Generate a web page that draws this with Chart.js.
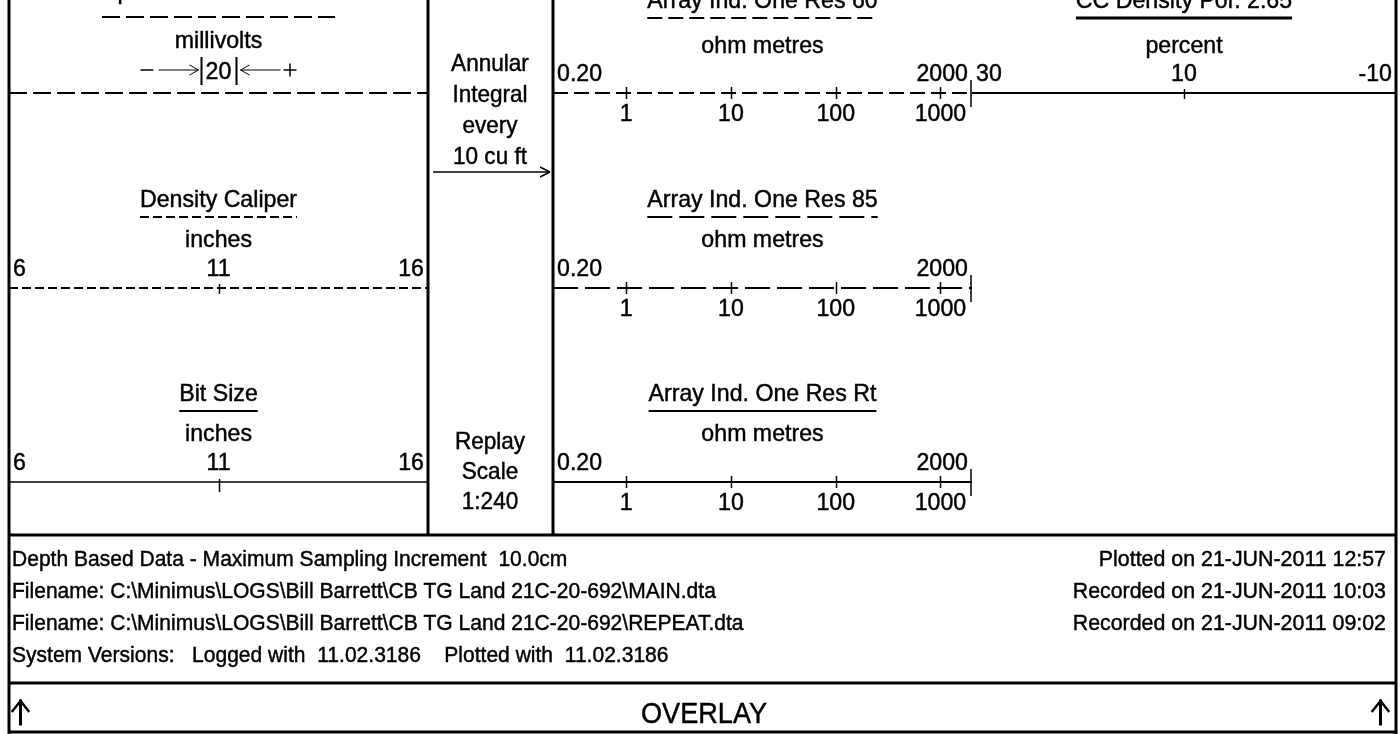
<!DOCTYPE html>
<html>
<head>
<meta charset="utf-8">
<title>Log header</title>
<script src="https://cdn.jsdelivr.net/npm/chart.js@4.4.0/dist/chart.umd.min.js"></script>
<style>
  html, body { margin: 0; padding: 0; background: #fff; }
  #sheet { position: relative; width: 1400px; height: 734px; overflow: hidden; }
  #sheet canvas { position: absolute; }
</style>
</head>
<body>
<div id="sheet">
  <canvas id="frame" width="1400" height="734" style="left:0;top:0"></canvas>
</div>
<script>
// curve names and units
var curveTitles = ['Spontaneous Potential', 'Density Caliper', 'Bit Size',
                   'Array Ind. One Res 60', 'Array Ind. One Res 85', 'Array Ind. One Res Rt',
                   'CC Density Por. 2.65'];
var curveUnits = ['millivolts', 'inches', 'inches', 'ohm metres', 'ohm metres', 'ohm metres', 'percent'];

// scale values
var spSpan = 20;
var caliperTicks = [6, 11, 16];
var bitSizeTicks = [6, 11, 16];
var resistivityEnds = [0.2, 2000];
var resistivityTicks = [1, 10, 100, 1000];
var porosityTicks = [30, 10, -10];

// footer text
var footerLeft = ['Depth Based Data - Maximum Sampling Increment  10.0cm',
                  'Filename: C:\\Minimus\\LOGS\\Bill Barrett\\CB TG Land 21C-20-692\\MAIN.dta',
                  'Filename: C:\\Minimus\\LOGS\\Bill Barrett\\CB TG Land 21C-20-692\\REPEAT.dta',
                  'System Versions:   Logged with  11.02.3186    Plotted with  11.02.3186'];
var footerRight = ['Plotted on 21-JUN-2011 12:57', 'Recorded on 21-JUN-2011 10:03',
                   'Recorded on 21-JUN-2011 09:02'];

var FONT = '"Liberation Sans", Arial, sans-serif';
var INK = '#000';

function line(ctx, x1, y1, x2, y2, w) {
  ctx.lineWidth = w;
  ctx.beginPath();
  ctx.moveTo(x1, y1);
  ctx.lineTo(x2, y2);
  ctx.stroke();
}

// slightly narrowed, slightly heavier text (plotter font), returns drawn width
function say(ctx, t, x, y, size, align, squeeze) {
  ctx.font = size + 'px ' + FONT;
  ctx.textAlign = align || 'center';
  ctx.textBaseline = 'alphabetic';
  var w = ctx.measureText(t).width * (squeeze || 0.965);
  ctx.fillText(t, x, y, w);
  ctx.lineWidth = 0.45;
  ctx.strokeText(t, x, y, w);
  return w;
}

//-----------------------
//- FRAME AND FREE TEXT -
//-----------------------
var fc = document.getElementById('frame').getContext('2d');
fc.fillStyle = '#fff';
fc.fillRect(0, 0, 1400, 734);
fc.strokeStyle = INK;
fc.fillStyle = INK;

// outer border and track dividers
line(fc, 9, 0, 9, 734, 3);
line(fc, 1396, 0, 1396, 734, 3);
line(fc, 428, 0, 428, 535, 3);
line(fc, 553, 0, 553, 535, 3);
line(fc, 9, 535, 1396, 535, 3);
line(fc, 9, 683, 1396, 683, 3);
line(fc, 9, 732, 1396, 732, 3);

// depth track
['Annular', 'Integral', 'every', '10 cu ft'].forEach(function (t, i) {
  say(fc, t, 490, 71 + i * 31, 24, 'center', 0.94);
});
line(fc, 433, 172, 550, 172, 1.5);
line(fc, 550, 172, 540, 167, 1.5);
line(fc, 550, 172, 540, 177, 1.5);
['Replay', 'Scale', '1:240'].forEach(function (t, i) {
  say(fc, t, 490, 449 + i * 30, 24, 'center', 0.94);
});

// footer
footerLeft.forEach(function (t, i) { say(fc, t, 12, 566 + i * 32, 22.5, 'left', 0.935); });
footerRight.forEach(function (t, i) { say(fc, t, 1386, 566 + i * 32, 22.5, 'right', 0.95); });

say(fc, 'OVERLAY', 704, 723, 29, 'center', 0.935);
fc.lineCap = 'square';
[20.5, 1380.5].forEach(function (x) {
  line(fc, x, 724, x, 701, 3);
  line(fc, x - 8, 711, x, 701, 2.5);
  line(fc, x + 8, 711, x, 701, 2.5);
});
fc.lineCap = 'butt';

//----------------
//- CURVE SCALES -
//----------------
var curveHeader = {
  id: 'curveHeader',
  afterDatasetsDraw: function (chart, args, o) {
    var ctx = chart.ctx;
    var xs = chart.scales.x;
    var y0 = chart.scales.y.getPixelForValue(0);
    var ds = chart.data.datasets[0];
    var cx = (chart.chartArea.left + chart.chartArea.right) / 2;
    var right = chart.chartArea.right;
    ctx.save();
    ctx.fillStyle = INK;
    ctx.strokeStyle = INK;

    // title with a key line drawn in the curve's own style
    var w = say(ctx, o.title, cx, y0 + o.titleY, 24);
    ctx.setLineDash(ds.borderDash || []);
    line(ctx, cx - w / 2, y0 + o.keyY, cx + w / 2, y0 + o.keyY, o.keyWidth);
    ctx.setLineDash([]);
    say(ctx, o.units, cx, y0 + o.unitsY, 24);

    // values above the line: first left, last right, others centred
    (o.above || []).forEach(function (v, i, arr) {
      var px = xs.getPixelForValue(v);
      var txt = o.format ? o.format(v) : String(v);
      var al = 'center';
      if (i === 0) { al = 'left'; px += 4; }
      else if (i === arr.length - 1) { al = 'right'; px -= 4; }
      say(ctx, txt, px, y0 - 12, 24, al);
    });
    (o.below || []).forEach(function (v) {
      say(ctx, String(v), xs.getPixelForValue(v), y0 + 28, 24);
    });

    // tick marks
    (o.ticks || []).forEach(function (v) {
      var px = Math.round(xs.getPixelForValue(v)) + 0.5;
      line(ctx, px, y0 - o.tickUp, px, y0 + o.tickDown, 1.5);
    });
    if (o.endMark) {
      line(ctx, right - 1, y0 - 13, right - 1, y0 + 14, 1.5);
    }

    // SP polarity key: - -->| span |<-- +
    if (o.polarity) {
      var py = y0 - 23;
      line(ctx, cx - 78, py, cx - 65, py, 1.5);
      line(ctx, cx - 60, py, cx - 20, py, 1);
      line(ctx, cx - 20, py, cx - 29, py - 5, 1);
      line(ctx, cx - 20, py, cx - 29, py + 5, 1);
      line(ctx, cx - 17, py - 13, cx - 17, py + 15, 2);
      say(ctx, String(o.polarity), cx, y0 - 14, 24);
      line(ctx, cx + 18, py - 13, cx + 18, py + 15, 2);
      line(ctx, cx + 22, py, cx + 62, py, 1);
      line(ctx, cx + 22, py, cx + 31, py - 5, 1);
      line(ctx, cx + 22, py, cx + 31, py + 5, 1);
      line(ctx, cx + 65, py, cx + 78, py, 1.5);
      line(ctx, cx + 71.5, py - 6.5, cx + 71.5, py + 6.5, 1.5);
    }
    ctx.restore();
  }
};

// one small chart per curve scale; lineY is where the scale line sits on the page
function curveScale(left, width, lineY, axis, dataset, header) {
  var above = 120, below = 40;
  var cv = document.createElement('canvas');
  cv.width = width;
  cv.height = above + below;
  cv.style.left = left + 'px';
  cv.style.top = (lineY - above) + 'px';
  document.getElementById('sheet').appendChild(cv);
  dataset.data = [{ x: axis.min, y: 0 }, { x: axis.max, y: 0 }];
  dataset.borderColor = INK;
  dataset.pointRadius = 0;
  dataset.fill = false;
  dataset.clip = false;
  header.keyWidth = header.keyWidth || dataset.borderWidth;
  header.titleY = header.titleY || -81;
  header.keyY = header.keyY || -71;
  header.unitsY = header.unitsY || -41;
  header.tickUp = header.tickUp || 6;
  header.tickDown = header.tickDown || 6;
  axis.display = false;
  return new Chart(cv.getContext('2d'), {
    type: 'scatter',
    data: { datasets: [dataset] },
    options: {
      responsive: false,
      animation: false,
      showLine: true,
      layout: { padding: 0 },
      plugins: { legend: { display: false }, tooltip: { enabled: false }, curveHeader: header },
      scales: {
        x: axis,
        y: { display: false, min: -below, max: above }
      }
    },
    plugins: [curveHeader]
  });
}

var T1 = 9, W1 = 419, T2 = 553, W2 = 419, T3 = 972, W3 = 424;
var fmtRes = function (v) { return v < 1 ? v.toFixed(2) : String(v); };

// track 1
curveScale(T1, W1, 93, { type: 'linear', min: -5 * spSpan, max: 5 * spSpan },
  { borderWidth: 2, borderDash: [18, 6] },
  { title: curveTitles[0], units: curveUnits[0], titleY: -94, keyY: -76, unitsY: -45, polarity: spSpan });
curveScale(T1, W1, 288, { type: 'linear', min: caliperTicks[0], max: caliperTicks[caliperTicks.length - 1] },
  { borderWidth: 2, borderDash: [9, 4] },
  { title: curveTitles[1], units: curveUnits[1], above: caliperTicks, ticks: caliperTicks.slice(1, -1), tickUp: 4 });
curveScale(T1, W1, 482, { type: 'linear', min: bitSizeTicks[0], max: bitSizeTicks[bitSizeTicks.length - 1] },
  { borderWidth: 1.5, borderDash: [] },
  { title: curveTitles[2], units: curveUnits[2], above: bitSizeTicks, ticks: bitSizeTicks.slice(1, -1), tickUp: 3, tickDown: 10, keyWidth: 2 });

// track 2: [line y, dash, title index, title y, key y, units y]
[[93, [15, 6], 3, -85, -75, -40], [288, [25, 7], 4, -81, -71, -41], [482, [], 5, -81, -71, -41]].forEach(function (r) {
  curveScale(T2, W2, r[0], { type: 'logarithmic', min: resistivityEnds[0], max: resistivityEnds[1] },
    { borderWidth: 2, borderDash: r[1] },
    { title: curveTitles[r[2]], units: curveUnits[r[2]], above: resistivityEnds, below: resistivityTicks,
      ticks: resistivityTicks, format: fmtRes, endMark: true, titleY: r[3], keyY: r[4], unitsY: r[5] });
});

// track 3 (reversed: 30 on the left)
curveScale(T3, W3, 93, { type: 'linear', min: porosityTicks[porosityTicks.length - 1], max: porosityTicks[0], reverse: true },
  { borderWidth: 2, borderDash: [] },
  { title: curveTitles[6], units: curveUnits[6], above: porosityTicks, ticks: porosityTicks.slice(1, -1),
    keyWidth: 3, titleY: -85, keyY: -75, unitsY: -40, tickUp: 4 });
</script>
</body>
</html>
